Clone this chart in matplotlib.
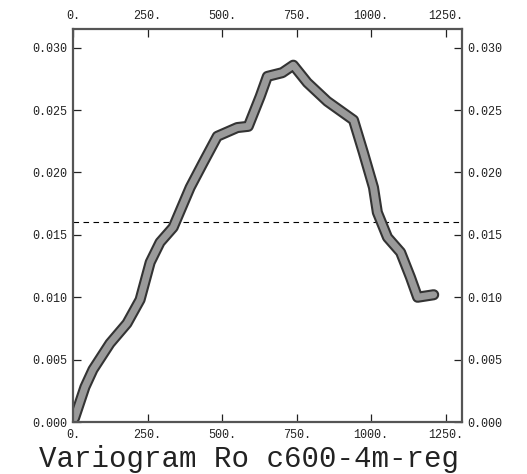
import matplotlib.pyplot as plt
from matplotlib.ticker import FuncFormatter

# lag distance and semivariance
lag = [5, 40, 67, 124, 181, 225, 259, 292, 336, 393, 437, 484, 551, 588,
       628, 652, 702, 739, 786, 853, 941, 974, 1008, 1021, 1055, 1099,
       1132, 1156, 1210]
gamma = [0.0003, 0.0028, 0.0042, 0.0063, 0.0079, 0.0098, 0.0128, 0.0144,
         0.0156, 0.0188, 0.0208, 0.0229, 0.0236, 0.0237, 0.0261, 0.0277,
         0.0280, 0.0286, 0.0272, 0.0257, 0.0242, 0.0216, 0.0188, 0.0168,
         0.0148, 0.0136, 0.0116, 0.0100, 0.0102]
sill = 0.016

xticks = [0, 250, 500, 750, 1000, 1250]
yticks = [0.000, 0.005, 0.010, 0.015, 0.020, 0.025, 0.030]
title = "Variogram Ro c600-4m-reg"

plt.rcParams['font.family'] = ['Liberation Mono', 'DejaVu Sans Mono']

fig = plt.figure(figsize=(5.27, 4.74), dpi=100)
ax = fig.add_axes([0.1385, 0.1097, 0.7382, 0.8291])

ax.axhline(sill, color='black', lw=0.8, ls=(0, (5, 4)))
ax.plot(lag, gamma, color='#333333', lw=8, solid_capstyle='round',
        solid_joinstyle='round')
ax.plot(lag, gamma, color='#9a9a9a', lw=5, solid_capstyle='round',
        solid_joinstyle='round')

ax.set_xlim(0, 1305)
ax.set_ylim(0, 0.0315)
ax.set_xticks(xticks)
ax.set_yticks(yticks)
ax.xaxis.set_major_formatter(FuncFormatter(lambda v, p: f"{int(round(v))}."))
ax.yaxis.set_major_formatter(FuncFormatter(lambda v, p: f"{v:.3f}"))
ax.tick_params(direction='in', length=6, width=0.9, top=True, right=True,
               labeltop=True, labelright=True, labelsize=8.5, pad=4,
               colors='#222222')
ax.tick_params(axis='x', which='both', bottom=True, pad=5)
for s in ax.spines.values():
    s.set_color('#555555')
    s.set_linewidth(1.6)

fig.text(0.472, 0.014, title, ha='center', va='baseline', fontsize=21,
         color='#222222')

fig.savefig('out.png', dpi=100)
